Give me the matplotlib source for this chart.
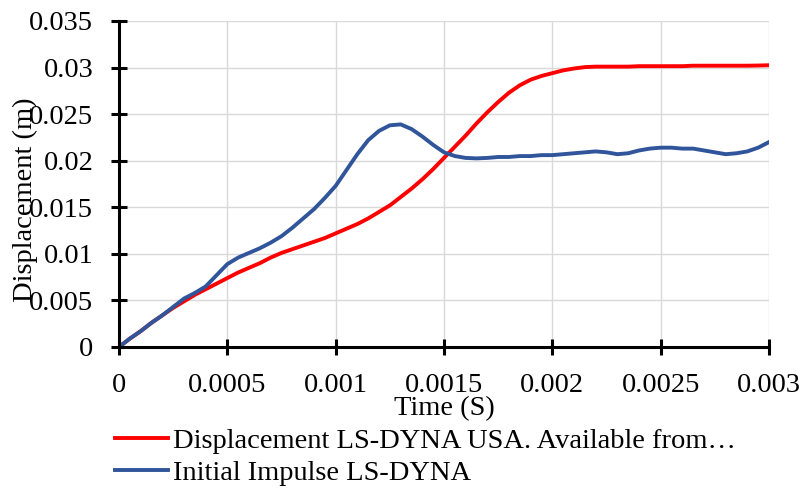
import matplotlib.pyplot as plt
import numpy as np

plt.rcParams['font.family'] = ['Liberation Serif', 'DejaVu Serif']

time = np.arange(61) * 0.00005

# red curve
disp_usa = [0, 0.0009, 0.0017, 0.0026, 0.0034, 0.0042, 0.0049, 0.0056, 0.0062, 0.0068,
            0.0074, 0.0080, 0.0085, 0.0090, 0.0096, 0.0101, 0.0105, 0.0109, 0.0113, 0.0117,
            0.0122, 0.0127, 0.0132, 0.0138, 0.0145, 0.0152, 0.0161, 0.0170, 0.0180, 0.0191,
            0.0203, 0.0215, 0.0227, 0.0240, 0.0252, 0.0263, 0.0273, 0.0281, 0.0287, 0.0291,
            0.0294, 0.0297, 0.0299, 0.03005, 0.0301, 0.0301, 0.0301, 0.0301, 0.03015, 0.03015,
            0.03015, 0.03015, 0.03015, 0.0302, 0.0302, 0.0302, 0.0302, 0.0302, 0.0302, 0.03022,
            0.03025]
# blue curve
disp_impulse = [0, 0.0009, 0.0017, 0.0026, 0.0034, 0.0043, 0.0052, 0.0058, 0.0065, 0.0077,
                0.0089, 0.0096, 0.0101, 0.0106, 0.0112, 0.0119, 0.0128, 0.0138, 0.0148, 0.0160,
                0.0173, 0.0190, 0.0207, 0.0222, 0.0232, 0.0238, 0.0239, 0.0234, 0.0226, 0.0217,
                0.0209, 0.0205, 0.0203, 0.02025, 0.0203, 0.0204, 0.0204, 0.0205, 0.0205, 0.0206,
                0.0206, 0.0207, 0.0208, 0.0209, 0.0210, 0.0209, 0.0207, 0.0208, 0.0211, 0.0213,
                0.0214, 0.0214, 0.0213, 0.0213, 0.0211, 0.0209, 0.0207, 0.0208, 0.0210, 0.0214,
                0.0220]

series_names = ["Displacement LS-DYNA USA. Available from\u2026", "Initial Impulse LS-DYNA"]

x_ticks = [0, 0.0005, 0.001, 0.0015, 0.002, 0.0025, 0.003]
x_tick_labels = ["0", "0.0005", "0.001", "0.0015", "0.002", "0.0025", "0.003"]
y_ticks = [0, 0.005, 0.01, 0.015, 0.02, 0.025, 0.03, 0.035]
y_tick_labels = ["0", "0.005", "0.01", "0.015", "0.02", "0.025", "0.03", "0.035"]

fs = 20.5

fig = plt.figure(figsize=(8.03, 4.88), dpi=100)
ax = fig.add_axes([119/803, 1 - 347/488, 650/803, 326/488])

ax.plot(time, disp_usa, color='#ff0000', lw=2.8, label=series_names[0], zorder=3,
        solid_joinstyle='round')
ax.plot(time, disp_impulse, color='#30559a', lw=2.8, label=series_names[1], zorder=3,
        solid_joinstyle='round')

ax.set_xlim(0, 0.003)
ax.set_ylim(0, 0.035)
ax.set_xticks(x_ticks)
ax.set_xticklabels(x_tick_labels)
ax.set_yticks(y_ticks)
ax.set_yticklabels(y_tick_labels)

ax.grid(True, color='#d9d9d9', lw=1.0)
ax.set_axisbelow(True)

for s in ['top', 'right']:
    ax.spines[s].set_visible(False)
for s in ['left', 'bottom']:
    ax.spines[s].set_linewidth(2.2)
    ax.spines[s].set_zorder(4)

ax.tick_params(direction='inout', length=11, width=2.2, labelsize=fs)
ax.tick_params(axis='x', pad=13)
ax.tick_params(axis='y', pad=13)

ax.set_xlabel("Time (S)", fontsize=fs)
ax.set_ylabel("Displacement (m)", fontsize=fs)
ax.xaxis.set_label_coords(0.5, -0.151)
ax.yaxis.set_label_coords(-0.124, 0.451)

fig.legend(loc='upper left', bbox_to_anchor=(115/803, 1 - 428/488), frameon=False,
           fontsize=fs, handlelength=1.85, handletextpad=0.2, borderpad=0,
           borderaxespad=0, labelspacing=0.22, handleheight=0.7)

fig.savefig('out.png', dpi=100)
